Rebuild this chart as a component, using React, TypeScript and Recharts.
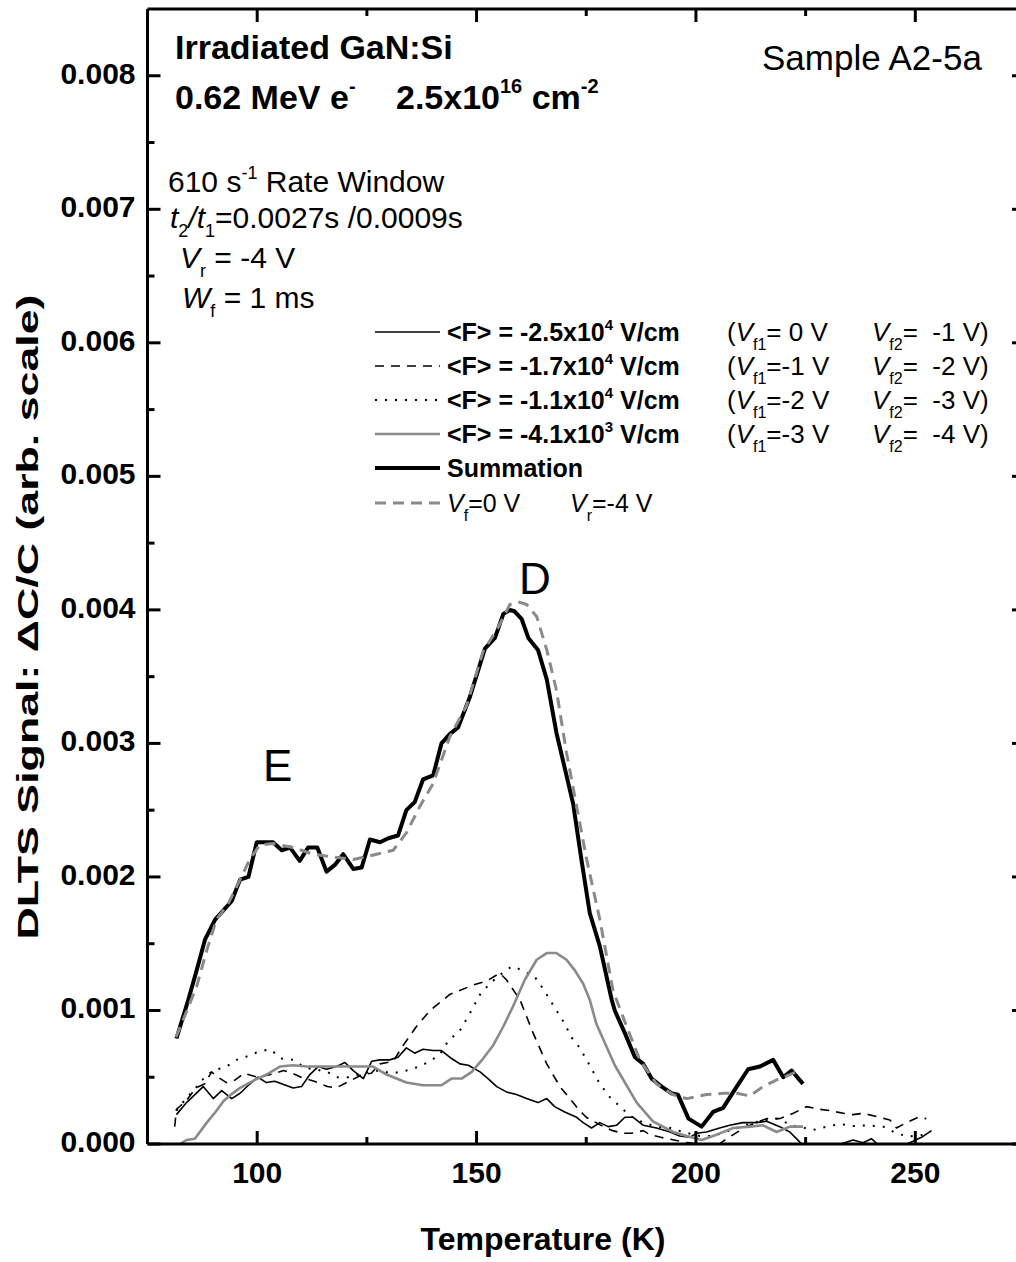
import React from 'react';
import { LineChart, Line, XAxis, YAxis } from 'recharts';

// ---------- data (temperature in K, signal in units of 1e-3) ----------
const sumT = [81.6, 84.3, 86.2, 88.1, 90.4, 92.3, 94.2, 96.1, 98.0, 99.9, 103.6, 105.6, 107.5, 109.7, 111.6, 113.7, 115.8, 117.7, 119.6, 121.9, 123.8, 125.7, 128.0, 129.9, 132.1, 134.0, 135.9, 137.8, 140.1, 142.0, 143.9, 145.8, 148.5, 151.9, 154.2, 156.1, 157.6, 158.6, 160.3, 161.8, 164.0, 166.0, 168.2, 172.0, 173.9, 175.8, 178.1, 180.8, 181.5, 183.8, 186.1, 188.0, 189.9, 192.2, 194.4, 195.9, 198.3, 201.3, 203.9, 206.2, 209.3, 211.9, 214.6, 217.6, 219.9, 221.8, 224.4];
const sumV = [0.79, 1.08, 1.30, 1.53, 1.68, 1.75, 1.82, 1.98, 2.00, 2.26, 2.26, 2.20, 2.22, 2.12, 2.22, 2.22, 2.04, 2.09, 2.17, 2.06, 2.07, 2.28, 2.26, 2.29, 2.31, 2.50, 2.56, 2.73, 2.76, 3.00, 3.07, 3.12, 3.35, 3.71, 3.79, 3.97, 4.00, 3.99, 3.93, 3.79, 3.70, 3.48, 3.08, 2.55, 2.13, 1.73, 1.48, 1.08, 1.00, 0.83, 0.65, 0.60, 0.49, 0.43, 0.38, 0.37, 0.19, 0.13, 0.24, 0.27, 0.43, 0.56, 0.58, 0.63, 0.50, 0.55, 0.45];

const refT = [81.5, 84.0, 86.2, 88.5, 90.7, 93.4, 96.1, 98.3, 100.6, 103.6, 108.2, 112.8, 117.3, 121.9, 127.2, 131.0, 134.0, 137.1, 140.1, 143.9, 147.7, 151.5, 154.6, 157.6, 159.5, 161.4, 163.7, 166.0, 168.2, 170.5, 172.8, 175.1, 178.1, 181.1, 184.2, 187.2, 191.0, 194.8, 197.9, 202.4, 206.2, 209.3, 212.3, 215.3, 218.4, 221.4, 223.7];
const refV = [0.80, 1.00, 1.18, 1.45, 1.68, 1.80, 1.98, 2.13, 2.24, 2.25, 2.22, 2.17, 2.15, 2.13, 2.17, 2.20, 2.33, 2.53, 2.70, 3.05, 3.28, 3.69, 3.85, 4.04, 4.06, 4.04, 3.95, 3.70, 3.40, 2.93, 2.53, 2.13, 1.68, 1.15, 0.88, 0.63, 0.45, 0.37, 0.34, 0.37, 0.38, 0.38, 0.36, 0.43, 0.48, 0.52, 0.55];

const f25T = [81.6, 83.9, 85.8, 87.7, 90.0, 91.9, 94.2, 96.1, 98.0, 100.2, 102.1, 104.0, 108.2, 110.1, 112.0, 113.9, 115.8, 118.1, 120.0, 121.9, 124.2, 126.1, 128.0, 130.2, 132.1, 134.0, 135.9, 137.8, 140.1, 142.0, 144.3, 146.2, 148.1, 150.8, 152.6, 154.6, 156.8, 159.1, 161.4, 164.0, 166.0, 167.8, 170.1, 172.8, 174.3, 176.2, 178.1, 180.0, 181.9, 183.8, 185.7, 188.0, 191.0, 194.1, 196.3, 198.6, 200.1, 202.4, 205.4, 207.7, 210.7, 213.8, 216.1, 219.1, 221.4, 222.9, 225.0, 229.0, 233.0, 235.8, 238.1, 240.0, 242.0, 245.0, 248.0, 249.5, 251.4, 253.7];
const f25V = [0.22, 0.31, 0.37, 0.43, 0.34, 0.40, 0.34, 0.38, 0.44, 0.50, 0.46, 0.47, 0.42, 0.43, 0.52, 0.58, 0.56, 0.58, 0.61, 0.55, 0.49, 0.62, 0.63, 0.63, 0.65, 0.72, 0.68, 0.71, 0.70, 0.70, 0.64, 0.60, 0.59, 0.54, 0.49, 0.43, 0.39, 0.37, 0.34, 0.31, 0.34, 0.28, 0.24, 0.20, 0.16, 0.12, 0.16, 0.13, 0.14, 0.20, 0.20, 0.14, 0.12, 0.09, 0.06, 0.05, 0.08, 0.09, 0.12, 0.14, 0.16, 0.16, 0.17, 0.13, 0.09, 0.04, -0.03, -0.05, 0.00, 0.03, 0.01, 0.04, -0.02, -0.05, 0.00, 0.02, 0.05, 0.10];

const f17T = [81.2, 81.6, 84.0, 86.0, 88.0, 89.6, 91.1, 93.0, 95.0, 97.0, 100.0, 103.0, 106.0, 108.0, 110.0, 113.0, 116.0, 118.0, 121.0, 124.0, 126.0, 128.0, 131.0, 133.3, 136.3, 139.4, 143.9, 149.2, 152.3, 155.3, 156.8, 159.9, 162.9, 166.0, 169.0, 172.0, 173.2, 175.0, 178.9, 181.0, 183.4, 185.3, 188.0, 189.5, 192.0, 195.0, 198.0, 200.9, 205.4, 207.0, 211.5, 216.1, 219.1, 222.2, 225.2, 228.2, 230.5, 233.6, 235.8, 238.1, 241.9, 244.2, 245.7, 248.0, 250.6, 252.5];
const f17V = [0.13, 0.26, 0.33, 0.42, 0.45, 0.54, 0.50, 0.46, 0.48, 0.53, 0.50, 0.52, 0.55, 0.53, 0.50, 0.47, 0.43, 0.42, 0.47, 0.52, 0.53, 0.60, 0.62, 0.74, 0.88, 1.00, 1.12, 1.19, 1.22, 1.28, 1.23, 1.08, 0.83, 0.60, 0.43, 0.31, 0.26, 0.20, 0.13, 0.10, 0.08, 0.08, 0.10, 0.07, 0.05, 0.03, 0.01, 0.00, 0.00, 0.04, 0.13, 0.19, 0.19, 0.23, 0.28, 0.26, 0.25, 0.23, 0.22, 0.23, 0.20, 0.18, 0.12, 0.16, 0.20, 0.19];

const f11T = [81.6, 84.0, 86.0, 88.0, 90.0, 93.0, 95.3, 98.0, 100.2, 102.9, 105.6, 108.2, 111.0, 113.0, 116.0, 118.1, 120.7, 124.2, 127.0, 131.0, 134.0, 137.0, 139.4, 141.6, 143.5, 146.2, 148.5, 150.8, 153.0, 155.5, 158.0, 160.6, 163.3, 165.2, 168.2, 170.1, 171.6, 173.5, 175.1, 178.1, 180.4, 182.7, 185.0, 188.0, 191.0, 194.1, 197.1, 200.9, 204.0, 208.5, 213.0, 216.1, 218.4, 222.0, 226.7, 229.8, 232.8, 235.8, 238.9, 242.7, 245.7, 248.4, 253.3];
const f11V = [0.25, 0.35, 0.42, 0.50, 0.55, 0.58, 0.63, 0.66, 0.69, 0.71, 0.64, 0.63, 0.57, 0.56, 0.54, 0.50, 0.50, 0.53, 0.55, 0.53, 0.55, 0.58, 0.62, 0.67, 0.77, 0.85, 0.98, 1.12, 1.20, 1.27, 1.33, 1.30, 1.25, 1.16, 1.00, 0.90, 0.80, 0.72, 0.63, 0.45, 0.35, 0.28, 0.21, 0.16, 0.13, 0.12, 0.09, 0.06, 0.06, 0.11, 0.16, 0.18, 0.19, 0.14, 0.105, 0.13, 0.15, 0.135, 0.14, 0.13, 0.08, 0.055, 0.075];

const f41T = [82.4, 83.9, 85.8, 88.5, 90.5, 92.3, 94.0, 96.1, 99.5, 102.1, 105.2, 108.2, 111.3, 114.3, 118.1, 121.9, 126.4, 129.5, 134.0, 137.8, 142.0, 144.3, 146.6, 148.9, 151.5, 153.8, 156.1, 158.3, 161.0, 163.7, 166.0, 168.2, 170.5, 172.4, 174.3, 175.8, 177.3, 181.5, 186.5, 190.2, 194.8, 197.9, 201.3, 204.7, 208.5, 212.3, 215.3, 218.4, 221.4, 224.4];
const f41V = [0.00, 0.03, 0.04, 0.16, 0.24, 0.32, 0.37, 0.42, 0.48, 0.52, 0.58, 0.59, 0.58, 0.58, 0.58, 0.58, 0.58, 0.52, 0.46, 0.44, 0.44, 0.49, 0.49, 0.54, 0.64, 0.74, 0.88, 1.03, 1.23, 1.38, 1.43, 1.43, 1.38, 1.30, 1.20, 1.08, 0.90, 0.59, 0.31, 0.17, 0.09, 0.06, 0.03, 0.07, 0.12, 0.13, 0.14, 0.09, 0.13, 0.13];

const xTicks = [100, 125, 150, 175, 200, 225, 250];
const xMajor = [100, 150, 200, 250];
const yTicks = [0, 0.0005, 0.001, 0.0015, 0.002, 0.0025, 0.003, 0.0035, 0.004, 0.0045, 0.005, 0.0055, 0.006, 0.0065, 0.007, 0.0075, 0.008];
const yMajor = [0, 0.001, 0.002, 0.003, 0.004, 0.005, 0.006, 0.007, 0.008];

const legendMant = ['-2.5x10', '-1.7x10', '-1.1x10', '-4.1x10'];
const legendExp = ['4', '4', '4', '3'];
const legendVf1 = ['= 0 V', '=-1 V', '=-2 V', '=-3 V'];
const legendVf2 = ['=  -1 V)', '=  -2 V)', '=  -3 V)', '=  -4 V)'];

// ---------- styles ----------
const GRAY = '#8a8a8a';
const FONT = '"Liberation Sans", Arial, Helvetica, sans-serif';
const series = [
  { key: 'f25', t: f25T, v: f25V, stroke: '#000', width: 1.6, dash: undefined as string | undefined },
  { key: 'f17', t: f17T, v: f17V, stroke: '#000', width: 1.6, dash: '9 7' },
  { key: 'f11', t: f11T, v: f11V, stroke: '#000', width: 2, dash: '2 8' },
  { key: 'f41', t: f41T, v: f41V, stroke: GRAY, width: 2.6, dash: undefined },
  { key: 'sum', t: sumT, v: sumV, stroke: '#000', width: 4, dash: undefined },
  { key: 'ref', t: refT, v: refV, stroke: GRAY, width: 3, dash: '11 7' },
];

const rows = (ts: number[], vs: number[]) => ts.map((t, i) => ({ t, v: vs[i] * 1e-3 }));

const isMajorY = (v: number) => yMajor.some((m) => Math.abs(m - v) < 1e-9);

const LeftTick = (p: any) => {
  const { x, y, payload } = p;
  const major = isMajorY(payload.value);
  return (
    <g>
      <line x1={x} x2={x + (major ? 13 : 7)} y1={y} y2={y} stroke="#000" strokeWidth={3} />
      {major && (
        <text x={x - 12} y={y + 8} textAnchor="end" fontFamily={FONT} fontWeight="bold" fontSize={30} fill="#000">
          {payload.value.toFixed(3)}
        </text>
      )}
    </g>
  );
};
const RightTick = (p: any) => {
  const { x, y, payload } = p;
  const major = isMajorY(payload.value);
  return <line x1={x} x2={x - (major ? 13 : 7)} y1={y} y2={y} stroke="#000" strokeWidth={3} />;
};
const BottomTick = (p: any) => {
  const { x, y, payload } = p;
  const major = xMajor.includes(payload.value);
  return (
    <g>
      <line x1={x} x2={x} y1={y} y2={y - (major ? 13 : 7)} stroke="#000" strokeWidth={3} />
      {major && (
        <text x={x} y={y + 39} textAnchor="middle" fontFamily={FONT} fontWeight="bold" fontSize={30} fill="#000">
          {payload.value}
        </text>
      )}
    </g>
  );
};
const TopTick = (p: any) => {
  const { x, y, payload } = p;
  const major = xMajor.includes(payload.value);
  return <line x1={x} x2={x} y1={y} y2={y + (major ? 13 : 7)} stroke="#000" strokeWidth={3} />;
};

const sub = (s: string, size = 17) => (
  <tspan fontSize={size} dy={9}>{s}</tspan>
);

export default function App() {
  const legendY = [332, 366, 400, 434, 468, 503];
  return (
    <div style={{ position: 'absolute', left: 0, top: 0, width: 1016, height: 1262, overflow: 'hidden', background: '#fff' }}>
      <LineChart width={1030} height={1262} margin={{ top: 8, right: 4, bottom: 0, left: 0 }}>
        <XAxis xAxisId="b" dataKey="t" type="number" domain={[75, 275]} allowDataOverflow ticks={xTicks} interval={0}
          orientation="bottom" height={118} tickSize={0} tickMargin={0} tickLine={false}
          axisLine={{ stroke: '#000', strokeWidth: 3 }} tick={BottomTick} />
        <XAxis xAxisId="top" dataKey="t" type="number" domain={[75, 275]} allowDataOverflow ticks={xTicks} interval={0}
          orientation="top" height={1} tickSize={0} tickMargin={0} tickLine={false}
          axisLine={{ stroke: '#000', strokeWidth: 3 }} tick={TopTick} />
        <YAxis yAxisId="l" type="number" domain={[0, 0.0085]} allowDataOverflow ticks={yTicks} interval={0}
          orientation="left" width={147.5} tickSize={0} tickMargin={0} tickLine={false}
          axisLine={{ stroke: '#000', strokeWidth: 3 }} tick={LeftTick} />
        <YAxis yAxisId="r" type="number" domain={[0, 0.0085]} allowDataOverflow ticks={yTicks} interval={0}
          orientation="right" width={1} tickSize={0} tickMargin={0} tickLine={false}
          axisLine={{ stroke: '#000', strokeWidth: 3 }} tick={RightTick} />
        {series.map((s) => (
          <Line key={s.key} xAxisId="b" yAxisId="l" data={rows(s.t, s.v)} dataKey="v" type="linear"
            stroke={s.stroke} strokeWidth={s.width} strokeDasharray={s.dash} strokeLinejoin="round"
            dot={false} activeDot={false} isAnimationActive={false} />
        ))}
      </LineChart>

      <svg width={1016} height={1262} style={{ position: 'absolute', left: 0, top: 0, pointerEvents: 'none' }}
        fontFamily={FONT} fill="#000">
        {/* title block */}
        <text x={175} y={59} fontSize={34} fontWeight="bold">Irradiated GaN:Si</text>
        <text x={175} y={109} fontSize={34} fontWeight="bold">
          0.62 MeV e<tspan fontSize={20} dy={-16}>-</tspan>
          <tspan x={396} dy={16}>2.5x10</tspan>
          <tspan fontSize={20} dy={-16}>16</tspan>
          <tspan dy={16}>{' cm'}</tspan>
          <tspan fontSize={20} dy={-16}>-2</tspan>
        </text>
        <text x={762} y={70} fontSize={35}>Sample A2-5a</text>

        <text x={168} y={192} fontSize={30}>
          610 s<tspan fontSize={18} dy={-13}>-1</tspan>
          <tspan dy={13}>{' Rate Window'}</tspan>
        </text>
        <text x={170} y={228} fontSize={30}>
          <tspan fontStyle="italic">t</tspan>{sub('2', 18)}
          <tspan fontStyle="italic" dy={-9}>/t</tspan>{sub('1', 18)}
          <tspan dy={-9}>=0.0027s /0.0009s</tspan>
        </text>
        <text x={180} y={268} fontSize={30}>
          <tspan fontStyle="italic">V</tspan>{sub('r', 18)}
          <tspan dy={-9}>{' = -4 V'}</tspan>
        </text>
        <text x={182} y={308} fontSize={30}>
          <tspan fontStyle="italic">W</tspan>{sub('f', 18)}
          <tspan dy={-9}>{' = 1 ms'}</tspan>
        </text>

        {/* peak labels */}
        <text x={263} y={781} fontSize={44}>E</text>
        <text x={519} y={594} fontSize={44}>D</text>

        {/* legend */}
        {series.map((s, i) => (
          <line key={'lg' + s.key} x1={375} x2={440} y1={legendY[i]} y2={legendY[i]} stroke={s.stroke}
            strokeWidth={s.width} strokeDasharray={s.dash} />
        ))}
        {legendMant.map((m, i) => (
          <g key={'lt' + i}>
            <text x={447} y={legendY[i] + 9} fontSize={25} fontWeight="bold">
              {'<F> = ' + m}<tspan fontSize={15} dy={-11}>{legendExp[i]}</tspan>
              <tspan dy={11}>{' V/cm'}</tspan>
            </text>
            <text x={727} y={legendY[i] + 9} fontSize={26} style={{ whiteSpace: 'pre' }}>
              (<tspan fontStyle="italic">V</tspan>{sub('f1', 16)}<tspan dy={-9}>{legendVf1[i]}</tspan>
            </text>
            <text x={872} y={legendY[i] + 9} fontSize={26} style={{ whiteSpace: 'pre' }}>
              <tspan fontStyle="italic">V</tspan>{sub('f2', 16)}<tspan dy={-9}>{legendVf2[i]}</tspan>
            </text>
          </g>
        ))}
        <text x={447} y={legendY[4] + 9} fontSize={25} fontWeight="bold">Summation</text>
        <text x={447} y={legendY[5] + 9} fontSize={25}>
          <tspan fontStyle="italic">V</tspan>{sub('f', 16)}<tspan dy={-9}>=0 V</tspan>
        </text>
        <text x={570} y={legendY[5] + 9} fontSize={25}>
          <tspan fontStyle="italic">V</tspan>{sub('r', 16)}<tspan dy={-9}>=-4 V</tspan>
        </text>

        {/* axis titles */}
        <text transform="translate(38,617) rotate(-90)" textAnchor="middle" fontSize={30} fontWeight="bold"
          textLength={645} lengthAdjust="spacingAndGlyphs">
          DLTS Signal: ΔC/C (arb. scale)
        </text>
        <text x={543} y={1250} textAnchor="middle" fontSize={32} fontWeight="bold">Temperature (K)</text>
      </svg>
    </div>
  );
}
